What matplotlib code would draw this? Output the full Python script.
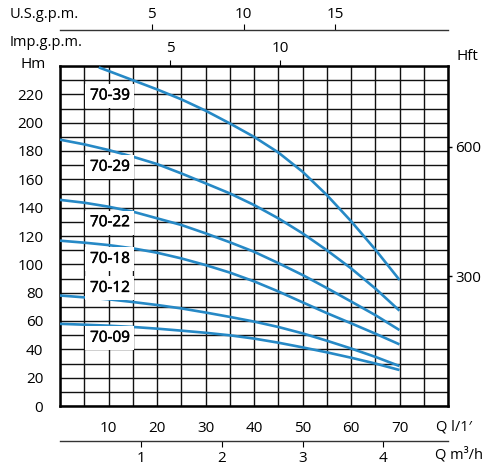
import matplotlib
matplotlib.use("Agg")
import matplotlib.pyplot as plt
import matplotlib.patheffects as pe
import numpy as np

plt.rcParams['font.family'] = ['Open Sans', 'DejaVu Sans']

# ---- data ----
pump_names = ["70-39", "70-29", "70-22", "70-18", "70-12", "70-09"]
q_7039 = [8, 10, 15, 20, 25, 30, 35, 40, 45, 50, 55, 60, 65, 70]
h_7039 = [239, 236.5, 230, 223.5, 216.5, 208.5, 199.5, 190, 179, 165.4, 149, 130.5, 110.5, 89]
q_std = [0, 5, 10, 15, 20, 25, 30, 35, 40, 45, 50, 55, 60, 65, 70]
h_7029 = [188, 184.7, 180.7, 176, 170.8, 164.2, 157.2, 150.1, 141.9, 132.5, 121.9, 110, 97.2, 83, 67.3]
h_7022 = [145.5, 143.5, 140.7, 137.2, 132.5, 127.8, 121.9, 115.6, 108.9, 100.9, 92.5, 83.3, 73.8, 64.2, 53.6]
h_7018 = [116.7, 115.3, 113.6, 111.3, 108.2, 104.2, 99.5, 94.2, 88, 80.9, 73.2, 65.6, 58.4, 51.1, 43.5]
h_7012 = [78, 76.7, 75.3, 73.4, 71.3, 68.9, 66, 62.9, 59.6, 55.8, 51.3, 46.1, 40.6, 34.7, 28.2]
h_7009 = [58, 57.4, 56.7, 55.8, 54.6, 53.2, 51.7, 49.9, 47.6, 44.7, 41.4, 37.9, 34.1, 30, 25.4]
series_q = [q_7039, q_std, q_std, q_std, q_std, q_std]
series_h = [h_7039, h_7029, h_7022, h_7018, h_7012, h_7009]

lpm_ticks = [10, 20, 30, 40, 50, 60, 70]
h_ticks = list(range(0, 221, 20))
hft_ticks = [300, 600]
usgpm_ticks = [5, 10, 15]
impgpm_ticks = [5, 10]
m3h_ticks = [1, 2, 3, 4]

# label anchor positions (layout, not data)
label_q = 10.3
label_h = [218.8, 168.5, 129.4, 103.5, 83, 47.8]

LPM_PER_USG = 3.785
LPM_PER_IMP = 4.546
FT_PER_M = 1 / 0.3048

fig = plt.figure(figsize=(4.97, 4.68), dpi=100)
ax = fig.add_axes([60/497, 62/468, 388/497, 340/468])
ax.set_xlim(0, 80)
ax.set_ylim(0, 240)

blue = '#2689c6'
for q, h in zip(series_q, series_h):
    ax.plot(q, h, color=blue, lw=1.9, zorder=3, solid_capstyle='butt', solid_joinstyle='round')

for name, y in zip(pump_names, label_h):
    ax.text(label_q, y, name, ha='center', va='center', fontsize=11, color='black',
            zorder=4, path_effects=[pe.withStroke(linewidth=0.35, foreground='black')],
            bbox=dict(boxstyle='square,pad=0.3', facecolor='white', edgecolor='none'))

ax.set_xticks(lpm_ticks)
ax.set_xticks(np.arange(0, 81, 5), minor=True)
ax.set_yticks(h_ticks)
ax.set_yticks(np.arange(0, 241, 10), minor=True)
ax.grid(which='both', color='#111111', lw=1.0, zorder=1)
ax.set_axisbelow(True)
ax.tick_params(which='both', length=0, labelsize=11)
ax.tick_params(axis='x', pad=11)
ax.tick_params(axis='y', pad=12)
for s in ax.spines.values():
    s.set_linewidth(1.8)
    s.set_color('black')

# right axis Hft
axr = ax.twinx()
axr.set_ylim(0, 240 * FT_PER_M)
axr.set_yticks(hft_ticks)
axr.tick_params(axis='y', length=3, width=1, pad=2, labelsize=11)
for s in axr.spines.values():
    s.set_visible(False)

# top: Imp.g.p.m.
axi = ax.secondary_xaxis('top', functions=(lambda x: x / LPM_PER_IMP, lambda x: x * LPM_PER_IMP))
axi.set_xticks(impgpm_ticks)
axi.tick_params(length=4, width=0.8, labelsize=11, pad=3)
axi.spines['top'].set_visible(False)

# top: U.S.g.p.m.
axu = ax.secondary_xaxis(376/340, functions=(lambda x: x / LPM_PER_USG, lambda x: x * LPM_PER_USG))
axu.set_xticks(usgpm_ticks)
axu.tick_params(length=4, width=0.8, labelsize=11, pad=1.5)
axu.spines['top'].set_linewidth(1.0)
axu.spines['top'].set_color('#333333')

# bottom: m3/h
axm = ax.secondary_xaxis(-35/340, functions=(lambda x: x * 0.06, lambda x: x / 0.06))
axm.set_xticks(m3h_ticks)
axm.tick_params(length=4, width=0.8, labelsize=11, pad=3)
axm.spines['bottom'].set_linewidth(1.0)
axm.spines['bottom'].set_color('#333333')

fig.text(10/497, 1 - 15/468, "U.S.g.p.m.", fontsize=10.5, ha='left', va='center')
fig.text(10/497, 1 - 42/468, "Imp.g.p.m.", fontsize=10.5, ha='left', va='center')
fig.text(20/497, 1 - 64/468, "Hm", fontsize=11, ha='left', va='center')
fig.text(457/497, 1 - 56/468, "Hft", fontsize=11, ha='left', va='center')
fig.text(436/497, 1 - 427/468, "Q l/1\u2032", fontsize=10.5, ha='left', va='center')
fig.text(435/497, 1 - 455/468, "Q m\u00b3/h", fontsize=10.5, ha='left', va='center')

fig.savefig("out.png", dpi=100)
